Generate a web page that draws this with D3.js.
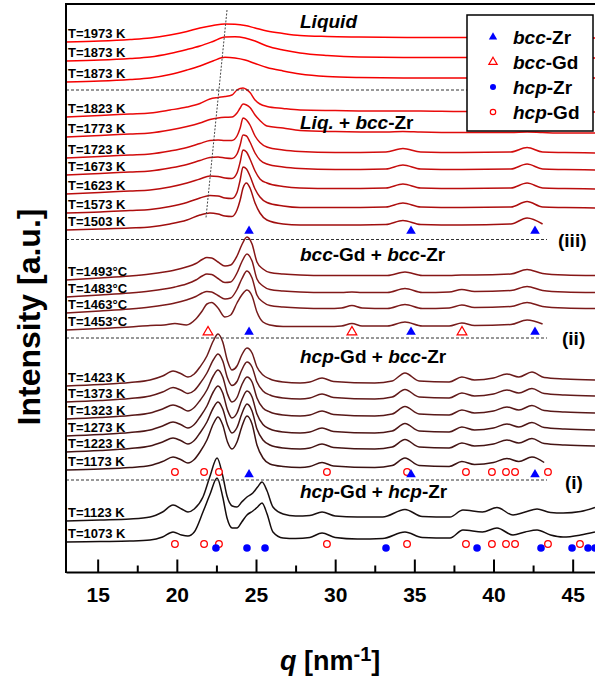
<!DOCTYPE html>
<html><head><meta charset="utf-8">
<script src="https://cdn.jsdelivr.net/npm/d3@7"></script>
<style>
body{margin:0;background:#fff}
svg{display:block}
text{font-family:Arial,"Liberation Sans",sans-serif;fill:#000}
</style>
</head><body>
<svg id="chart" width="595" height="677"></svg>
<script>
// ---------------- DATA ----------------
// Liquid group
const labelsLiquid = ["T=1973 K", "T=1873 K", "T=1873 K"];
const offsetsLiquid = [530, 511, 490];
const qLiquid = [13, 15.15, 17.04, 18.31, 19.57, 20.64, 21.46, 22.28, 23.04, 23.67, 24.31, 24.94, 25.69, 26.71, 27.78, 29.5, 31.5, 35, 39, 43, 46.41];
const i1973 = [0, 1, 2.5, 4, 7, 10.5, 14, 16.5, 18, 17.7, 16.5, 14, 11, 8.5, 6.5, 5.5, 5, 4.5, 4.5, 4, 4];
const i1873a = [0, 1, 2.5, 4, 7.5, 11.5, 15, 19.5, 24, 24.2, 23, 20, 15, 11, 8, 5.5, 4, 3.5, 3.5, 3, 3];
const i1873b = [0, 1, 2.5, 4, 7.5, 12, 16, 21, 24.7, 24, 22, 18.5, 14.5, 11, 8, 5.5, 4.5, 4, 4, 4, 4];

// Liq. + bcc-Zr group
const labelsLiqBcc = ["T=1823 K", "T=1773 K", "T=1723 K", "T=1673 K", "T=1623 K", "T=1573 K", "T=1503 K"];
const offsetsLiqBcc = [455, 435, 414, 397, 378, 359, 342];
const qLiqBcc = [13, 15.15, 17.04, 18.31, 19.57, 20.64, 21.46, 22.09, 22.6, 23.04, 23.48, 23.8, 24.0, 24.18, 24.4, 24.62, 24.94, 25.25, 25.69, 26.71, 27.78, 30, 33.2, 34.28, 35.4, 38, 41.1, 42.12, 43.1, 44.5, 46.41];
const i1823 = [0, 1.5, 3, 4, 7, 10, 13.5, 18, 19.5, 20.5, 22, 27, 28.5, 29, 27.5, 24.5, 17, 13, 10.5, 8.5, 7, 6.5, 6, 6, 6, 5.5, 5.5, 5.5, 5.5, 5, 5];
const i1773 = [0, 1.5, 3, 4, 7, 10.5, 14, 17.5, 19, 19.7, 20, 24, 29, 33, 32, 29.5, 22, 16.5, 11, 9, 6.5, 5.5, 5, 5.5, 5, 4.5, 4.5, 5, 4.5, 4, 4];
const i1723 = [0, 1.5, 3, 4, 7, 10.5, 14.5, 17.5, 18, 17.5, 17.5, 22, 30, 40, 38, 33, 22, 15.5, 11, 8, 6.5, 5.5, 6, 9.5, 6, 5.5, 6, 10.5, 6, 5.5, 5];
const i1673 = [0, 1.5, 3, 4, 7, 10.5, 14.5, 17.5, 18, 17, 16.5, 21, 30, 40, 39, 33, 22, 15, 11, 8, 6.5, 5.5, 6, 10, 6, 5.5, 6, 11, 6, 5.5, 5];
const i1623 = [0, 1.5, 3, 4, 7, 11, 15, 18, 17.5, 16, 15.5, 21, 32, 44, 42, 35, 23, 15, 11, 7.5, 6, 5.5, 6, 10, 6, 5.5, 6, 11, 6, 5.5, 5];
const i1573 = [0, 1, 2.5, 3.5, 6.5, 10.5, 15, 17.5, 17, 15, 14.5, 20.5, 33, 46, 44, 37, 24, 16, 10.5, 7, 5.5, 5.5, 6, 10, 6, 5.5, 6, 11.5, 6, 5.5, 5];
const i1503 = [0, 1, 2, 3, 6, 10, 15, 17, 16, 14, 13.5, 20, 30, 42, 47, 42, 27, 17, 10, 6, 5, 5, 5.5, 9.5, 5.5, 5, 6, 12, 6];

// bcc-Gd + bcc-Zr group
const labelsBccBcc = ["T=1493\u00B0C", "T=1483\u00B0C", "T=1463\u00B0C", "T=1453\u00B0C"];
const offsetsBccBcc = [292, 275, 259, 242];
const qBccBcc = [13, 15.15, 17.04, 18.31, 19.2, 19.88, 20.6, 21.2, 21.6, 21.9, 22.2, 22.6, 23.04, 23.4, 23.8, 24.1, 24.43, 24.75, 25.06, 25.44, 25.88, 26.71, 27.78, 29.5, 30.4, 31.06, 31.7, 33.3, 34.41, 35.5, 37.2, 38.0, 38.8, 41.1, 42.12, 43.1, 44.5, 46.41];
const i1493 = [0, 2, 4, 6, 8, 10, 13, 16.5, 20.5, 22.5, 22, 18, 14, 15, 24, 35, 43, 36, 18, 11, 7.5, 6, 5, 4.5, 4.5, 4.5, 4.5, 4.5, 8, 4.5, 4.5, 5, 5, 6, 10.5, 6.5, 5, 4.5];
const i1483 = [0, 2, 4, 6, 8, 10, 13, 17, 21, 23, 22.5, 18.5, 14.5, 15, 24, 35, 43, 36, 18, 11, 7.5, 6, 5, 4.5, 4.5, 5, 4.5, 4.5, 8.5, 4.5, 5, 7.5, 5.5, 6.5, 10.5, 6.5, 5, 4.5];
const i1463 = [0, 2, 4, 6, 8, 10, 13, 16.5, 20, 21.5, 21, 17.5, 14, 15, 23.5, 34, 42, 35, 18, 11, 7.5, 6, 5, 4.5, 5, 7.5, 5, 4.5, 8.5, 4.5, 5, 8, 5.5, 6.5, 10.5, 6.5, 5, 4.5];
const i1453 = [0, 1.5, 3, 4.5, 5, 6.5, 5, 11, 19, 26, 27.5, 22, 13, 15, 27, 35, 40, 34, 18, 8, 5, 3.5, 3.5, 3.5, 4, 6.5, 4, 4, 8, 4, 4, 7, 4.5, 5.5, 10, 6];

// hcp-Gd + bcc-Zr group
const labelsHcpBcc = ["T=1423 K", "T=1373 K", "T=1323 K", "T=1273 K", "T=1223 K", "T=1173 K"];
const offsetsHcpBcc = [186, 170, 153, 136, 120, 102];
const qHcpBcc = [13, 15.15, 17.04, 18.31, 19.1, 19.76, 20.3, 20.7, 21.1, 21.46, 21.9, 22.3, 22.6, 22.9, 23.2, 23.48, 23.8, 24.1, 24.43, 24.75, 25.06, 25.44, 25.88, 26.71, 27.78, 28.4, 29.17, 29.9, 32.5, 33.6, 34.41, 35.3, 37.2, 38.0, 38.8, 40.0, 40.85, 41.6, 42.43, 43.2, 44.5, 46.41];
const i1423 = [0, 1.5, 3.5, 6, 10, 15, 12, 9, 12, 19, 30, 45, 52, 44, 25, 16, 20, 31, 38, 33, 19, 11, 7, 4, 3, 4, 8, 4.5, 3, 5, 13, 5, 4, 9, 6, 8, 12, 9, 14, 8.5, 7, 6];
const i1373 = [0, 1.5, 3.5, 6, 10, 14.5, 11.5, 8.5, 11.5, 18.5, 29, 42, 48, 41, 24, 16.5, 20.5, 32, 40, 35, 20, 11, 7, 4, 3, 4, 8, 4.5, 3, 5, 12.5, 5, 4, 9, 6, 8, 12, 9, 13.5, 8.5, 7, 6];
const i1323 = [0, 1.5, 3.5, 6, 10, 14, 11, 8, 11.5, 18.5, 29, 43, 49, 42, 25, 17, 21.5, 34, 42, 37, 21, 11, 7, 4, 3, 4, 8, 4.5, 3, 5, 12.5, 5, 4, 9, 6, 8, 12, 9, 13.5, 8.5, 7, 6];
const i1273 = [0, 1.5, 3.5, 6, 10, 14, 11, 8, 11.5, 19, 30, 44, 50, 43, 26, 18, 23, 36, 45, 39, 22, 11.5, 7, 4, 3, 4, 8, 4.5, 3, 5, 12.5, 5, 4, 9, 6, 8, 12, 9, 13.5, 8.5, 7, 6];
const i1223 = [0, 1.5, 3.5, 6, 10, 14, 11, 8, 11.5, 19, 30, 44, 50, 43, 27, 19, 24.5, 38, 48, 41, 23, 12, 7, 4, 3, 4, 8, 4.5, 3, 5, 12.5, 5, 4, 9, 6, 8, 12, 9, 13.5, 8.5, 7, 6];
const i1173 = [0, 1, 2.5, 4.5, 8.5, 13, 10, 7, 10.5, 18, 30, 46, 53, 45, 28, 21, 28, 43, 54, 46, 25, 12, 6, 3.5, 2.5, 3.5, 7.5, 4, 2.5, 4.5, 12, 4.5, 3.5, 8.5, 5.5, 7.5, 11.5, 8.5, 13, 7.5];

// hcp-Gd + hcp-Zr group
const labelsHcpHcp = ["T=1123 K", "T=1073 K"];
const offsetsHcpHcp = [51, 30];
const qHcpHcp = [13, 15.15, 17.04, 18.31, 19.1, 19.76, 20.3, 20.7, 21.1, 21.65, 22.1, 22.54, 22.9, 23.17, 23.5, 23.8, 24.1, 24.43, 24.8, 25.1, 25.38, 25.7, 26.07, 26.71, 27.5, 28.4, 29.17, 30.0, 31.4, 33.0, 34.41, 35.5, 37.25, 38.07, 39.3, 40.22, 41.23, 42.0, 42.75, 43.6, 44.39, 45.5, 46.41];
const i1123 = [0, 1, 2, 4, 9, 16, 12, 9, 12, 24, 45, 63, 45, 25, 15, 14, 19, 24, 28, 34, 39, 30, 14, 7, 5, 5.5, 9, 5, 4, 4, 11.5, 4.5, 4, 11, 9, 13.5, 6, 9, 12, 8.5, 8, 9.5, 13.5];
const i1073 = [0, 0.5, 1, 2, 5, 10, 7, 6, 10, 30, 48, 64, 45, 24, 14, 14, 20, 27, 31, 35, 39, 28, 10, 4, 3.5, 4.5, 9, 4.5, 3, 3.5, 10, 4.5, 4, 12, 10, 14, 7, 10, 12, 7, 5, 7, 10];

// Reference peak positions (q, nm^-1)
const bccZrPeaks = [24.56, 34.79, 42.62];
const bccGdPeaks = [21.97, 31.06, 38.01];
const hcpGdPeaksI = [19.88, 21.72, 22.66, 29.48, 34.54, 38.26, 39.9, 40.79, 41.36, 43.44];
const hcpGdPeaks = [19.88, 21.72, 22.66, 29.48, 34.54, 38.26, 39.9, 40.79, 41.36, 43.44, 45.46];
const hcpZrPeaks = [22.47, 24.43, 25.57, 33.21, 38.96, 43.0, 44.96, 45.97, 46.41];

// Region separators (intensity a.u.) and dashed guide line [q, a.u.]
const separators = [482, 332.5, 234, 92];
const guideLine = [[23.17, 562], [21.84, 354]];

const xTicks = [15, 20, 25, 30, 35, 40, 45];
const xMinorTicks = [17.5, 22.5, 27.5, 32.5, 37.5, 42.5];

// ---------------- CHART ----------------
const svg = d3.select("#chart");
const x = d3.scaleLinear().domain([13, 46.41]).range([66, 595]);
const y = d3.scaleLinear().domain([0, 568]).range([572, 4]);

const groups = [
  {labels: labelsLiquid, offsets: offsetsLiquid, q: qLiquid, vals: [i1973, i1873a, i1873b],
   colors: ["#ff0000", "#fa0000", "#f40000"]},
  {labels: labelsLiqBcc, offsets: offsetsLiqBcc, q: qLiqBcc, vals: [i1823, i1773, i1723, i1673, i1623, i1573, i1503],
   colors: ["#ea0a0a", "#df0b0b", "#d20c0c", "#c60c0c", "#ba0d0d", "#ad0d0d", "#a00e0e"]},
  {labels: labelsBccBcc, offsets: offsetsBccBcc, q: qBccBcc, vals: [i1493, i1483, i1463, i1453],
   colors: ["#861616", "#811818", "#7c1a1a", "#771b1b"]},
  {labels: labelsHcpBcc, offsets: offsetsHcpBcc, q: qHcpBcc, vals: [i1423, i1373, i1323, i1273, i1223, i1173],
   colors: ["#6a1a1a", "#611919", "#581818", "#4e1616", "#451414", "#3c1212"]},
  {labels: labelsHcpHcp, offsets: offsetsHcpHcp, q: qHcpHcp, vals: [i1123, i1073],
   colors: ["#1a1010", "#140c0c"]}
];

svg.append("defs").append("clipPath").attr("id", "plotclip")
  .append("rect").attr("x", 66).attr("y", 4).attr("width", 529).attr("height", 568);

const plot = svg.append("g").attr("clip-path", "url(#plotclip)");
const line = d3.line().curve(d3.curveMonotoneX);

groups.forEach(g => {
  g.vals.forEach((v, k) => {
    const pts = v.map((val, j) => [x(g.q[j]), y(g.offsets[k] + val)]);
    plot.append("path").attr("d", line(pts))
      .attr("fill", "none").attr("stroke", g.colors[k]).attr("stroke-width", 1.5);
  });
});

// dashed separators
separators.forEach(s => {
  plot.append("line").attr("x1", x(13)).attr("x2", x(43.38))
    .attr("y1", y(s)).attr("y2", y(s))
    .attr("stroke", "#333").attr("stroke-width", 1).attr("stroke-dasharray", "3,2");
});

// guide line through the liquid maximum
plot.append("path").attr("d", d3.line()(guideLine.map(d => [x(d[0]), y(d[1])])))
  .attr("stroke", "#444").attr("stroke-width", 1).attr("stroke-dasharray", "2,1.5").attr("fill", "none");

// temperature labels
groups.forEach(g => {
  g.labels.forEach((lab, k) => {
    svg.append("text").attr("x", 68).attr("y", y(g.offsets[k]) - 4)
      .attr("font-size", 13).attr("font-weight", "bold").text(lab);
  });
});

// markers
const tri = d3.symbol().type(d3.symbolTriangle).size(40);
function triangles(qs, yy, filled) {
  qs.forEach(q => {
    plot.append("path").attr("d", tri())
      .attr("transform", `translate(${x(q)},${y(yy)})`)
      .attr("fill", filled ? "#0000ff" : "#fff")
      .attr("stroke", filled ? "none" : "#ff0000").attr("stroke-width", 1.3);
  });
}
function circles(qs, yy, filled) {
  qs.forEach(q => {
    plot.append("circle").attr("cx", x(q)).attr("cy", y(yy))
      .attr("r", filled ? 3.8 : 3.3)
      .attr("fill", filled ? "#0000ff" : "#fff")
      .attr("stroke", filled ? "none" : "#ff0000").attr("stroke-width", 1.3);
  });
}
triangles(bccZrPeaks, 341, true);
triangles(bccGdPeaks, 240, false);
triangles(bccZrPeaks, 240, true);
circles(hcpGdPeaksI, 100, false);
triangles(bccZrPeaks, 97.5, true);
circles(hcpGdPeaks, 28, false);
circles(hcpZrPeaks, 24, true);

// region labels
const regionText = [
  {x: 300, y: 28, parts: [["Liquid", true]]},
  {x: 300, y: 129, parts: [["Liq.", true], [" + ", false], ["bcc", true], ["-Zr", false]]},
  {x: 300, y: 261, parts: [["bcc", true], ["-Gd + ", false], ["bcc", true], ["-Zr", false]]},
  {x: 300, y: 363, parts: [["hcp", true], ["-Gd + ", false], ["bcc", true], ["-Zr", false]]},
  {x: 300, y: 498, parts: [["hcp", true], ["-Gd + ", false], ["hcp", true], ["-Zr", false]]}
];
regionText.forEach(r => {
  const t = svg.append("text").attr("x", r.x).attr("y", r.y)
    .attr("font-size", 19).attr("font-weight", "bold").attr("xml:space", "preserve");
  r.parts.forEach(p => t.append("tspan").attr("font-style", p[1] ? "italic" : "normal").text(p[0]));
});

// (iii), (ii), (i)
[["(iii)", 558, 247], ["(ii)", 562, 345], ["(i)", 565, 489]].forEach(d => {
  svg.append("text").attr("x", d[1]).attr("y", d[2]).attr("font-size", 19)
    .attr("font-weight", "bold").text(d[0]);
});

// legend
const lg = svg.append("g");
lg.append("rect").attr("x", 467).attr("y", 15).attr("width", 126).attr("height", 116)
  .attr("fill", "#fff").attr("stroke", "#000").attr("stroke-width", 1.5);
const legendItems = [
  {kind: "tri", filled: true, a: "bcc", b: "-Zr"},
  {kind: "tri", filled: false, a: "bcc", b: "-Gd"},
  {kind: "circ", filled: true, a: "hcp", b: "-Zr"},
  {kind: "circ", filled: false, a: "hcp", b: "-Gd"}
];
legendItems.forEach((it, i) => {
  const cy = 37 + i * 25;
  if (it.kind === "tri") {
    lg.append("path").attr("d", d3.symbol().type(d3.symbolTriangle).size(30)())
      .attr("transform", `translate(493,${cy})`)
      .attr("fill", it.filled ? "#0000ff" : "#fff")
      .attr("stroke", it.filled ? "none" : "#ff0000").attr("stroke-width", 1.2);
  } else {
    lg.append("circle").attr("cx", 493).attr("cy", cy).attr("r", it.filled ? 3 : 2.7)
      .attr("fill", it.filled ? "#0000ff" : "#fff")
      .attr("stroke", it.filled ? "none" : "#ff0000").attr("stroke-width", 1.2);
  }
  const t = lg.append("text").attr("x", 513).attr("y", cy + 7)
    .attr("font-size", 19).attr("font-weight", "bold");
  t.append("tspan").attr("font-style", "italic").text(it.a);
  t.append("tspan").text(it.b);
});

// axes
const xAxis = svg.append("g").attr("transform", "translate(0,572)")
  .call(d3.axisBottom(x).tickValues(xTicks).tickSize(-12.5).tickSizeOuter(0).tickPadding(15));
xAxis.select(".domain").attr("stroke-width", 2);
xAxis.selectAll(".tick line").attr("stroke-width", 2);
xAxis.selectAll(".tick text").attr("font-size", 21).attr("font-weight", "bold")
  .attr("font-family", "Arial, 'Liberation Sans', sans-serif").attr("fill", "#000");
const xMinor = svg.append("g").attr("transform", "translate(0,572)")
  .call(d3.axisBottom(x).tickValues(xMinorTicks).tickSize(-6.5).tickFormat(""));
xMinor.select(".domain").remove();
xMinor.selectAll(".tick line").attr("stroke-width", 2);

// frame: left and top
svg.append("line").attr("x1", 66).attr("x2", 66).attr("y1", 4).attr("y2", 573)
  .attr("stroke", "#000").attr("stroke-width", 2);
svg.append("line").attr("x1", 65).attr("x2", 595).attr("y1", 4).attr("y2", 4)
  .attr("stroke", "#000").attr("stroke-width", 2);

// axis titles
const xt = svg.append("text").attr("x", 280).attr("y", 670)
  .attr("font-size", 27).attr("font-weight", "bold").attr("xml:space", "preserve");
xt.append("tspan").attr("font-style", "italic").text("q");
xt.append("tspan").text(" [nm");
xt.append("tspan").attr("font-size", 20).attr("dy", -9).text("-1");
xt.append("tspan").attr("dy", 9).text("]");

svg.append("text").attr("transform", "translate(40,317) rotate(-90)")
  .attr("text-anchor", "middle").attr("font-size", 32).attr("font-weight", "bold")
  .text("Intensity [a.u.]");
</script>
</body></html>
